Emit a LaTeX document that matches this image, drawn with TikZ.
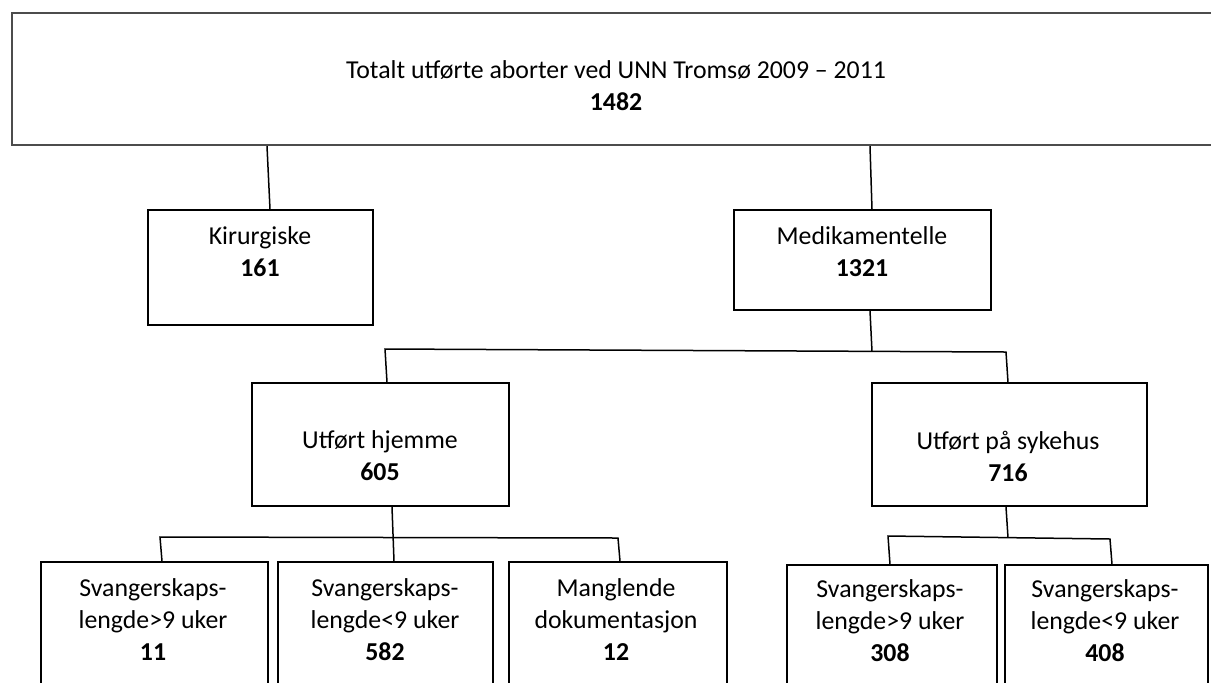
\documentclass[tikz,border=0pt]{standalone}
\usepackage{fontspec}
\setmainfont{Carlito}
\usetikzlibrary{fit}
\begin{document}
\begin{tikzpicture}[x=0.5pt,y=-0.5pt,
  box/.style={draw=black, line width=0.8pt, inner sep=0pt},
  topbox/.style={draw=black!70, line width=1.2pt, inner sep=0pt},
  conn/.style={draw=black, line width=0.75pt},
  lbl/.style={align=center, font=\fontsize{12.9}{16}\selectfont, inner sep=0pt, text=black}]
\useasboundingbox (0,0) rectangle (1211,682);
\clip (0,0) rectangle (1211,682);
% boxes
\node[topbox, fit={(12,13) (1230,145)}] (top) {};
\node[box, fit={(148,210) (373,325)}] (kir) {};
\node[box, fit={(734,210) (991,310)}] (med) {};
\node[box, fit={(252,383) (509,506)}] (hj) {};
\node[box, fit={(872,383) (1147,506)}] (sy) {};
\node[box, fit={(41,562) (268,730)}] (b1) {};
\node[box, fit={(278,562) (493,730)}] (b2) {};
\node[box, fit={(509,562) (727,730)}] (b3) {};
\node[box, fit={(787,565) (997,730)}] (b4) {};
\node[box, fit={(1005,565) (1208,730)}] (b5) {};
% labels
\node[lbl] (ltop) at (616,86) {Totalt utførte aborter ved UNN Tromsø 2009 – 2011\\\textbf{1482}};
\node[lbl] (lkir) at (260,252) {Kirurgiske\\\textbf{161}};
\node[lbl] (lmed) at (862,252) {Medikamentelle\\\textbf{1321}};
\node[lbl] (lhj) at (380,456) {Utført hjemme\\\textbf{605}};
\node[lbl] (lsy) at (1008,456) {Utført på sykehus\\\textbf{716}};
\node[lbl] (lb1) at (153,620) {Svangerskaps-\\lengde>9 uker\\\textbf{11}};
\node[lbl] (lb2) at (385,620) {Svangerskaps-\\lengde<9 uker\\\textbf{582}};
\node[lbl] (lb3) at (616,620) {Manglende\\dokumentasjon\\\textbf{12}};
\node[lbl] (lb4) at (890,621) {Svangerskaps-\\lengde>9 uker\\\textbf{308}};
\node[lbl] (lb5) at (1105,621) {Svangerskaps-\\lengde<9 uker\\\textbf{408}};
% helper x-positions
\coordinate (p1) at (267,0); \coordinate (p2) at (270,0);
\coordinate (p3) at (870,0); \coordinate (p4) at (872,0);
\coordinate (q1) at (387,0); \coordinate (q2) at (1008,0);
\coordinate (r0) at (392,0); \coordinate (r1) at (394,0);
\coordinate (s1) at (162,0); \coordinate (s2) at (620,0);
\coordinate (t0) at (1006,0);
\coordinate (v1) at (890,0); \coordinate (v2) at (1112,0);
% junctions
\coordinate (j1) at (872,351.4);
\coordinate (j2) at (385,349);
\coordinate (j3) at (1006,352);
\coordinate (k1) at (160,537);
\coordinate (k2) at (618,538);
\coordinate (u0) at (1008,537.5);
\coordinate (u1) at (888,536);
\coordinate (u2) at (1110,539);
% connectors
\draw[conn] (top.south -| p1) -- (kir.north -| p2);
\draw[conn] (top.south -| p3) -- (med.north -| p4);
\draw[conn] (med.south -| p3) -- (j1);
\draw[conn] (hj.north -| q1) -- (j2) -- (j3) -- (sy.north -| q2);
\draw[conn] (hj.south -| r0) -- (b2.north -| r1);
\draw[conn] (b1.north -| s1) -- (k1) -- (k2) -- (b3.north -| s2);
\draw[conn] (sy.south -| t0) -- (u0);
\draw[conn] (b4.north -| v1) -- (u1) -- (u2) -- (b5.north -| v2);
\end{tikzpicture}
\end{document}
